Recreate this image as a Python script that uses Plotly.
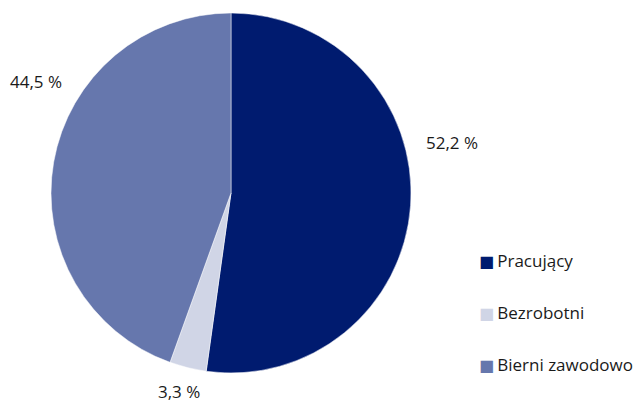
import plotly.graph_objects as go

categories = ["Pracujący", "Bezrobotni", "Bierni zawodowo"]
values = [52.2, 3.3, 44.5]
value_labels = ["52,2 %", "3,3 %", "44,5 %"]
colors = ["#001b6f", "#d0d5e6", "#6677ad"]

W, H = 638, 403
cx, cy, r = 231, 193, 180
FONT = "Open Sans, Noto Sans, sans-serif"
TXT = "#1a1a1a"

fig = go.Figure()
fig.add_trace(go.Pie(
    labels=categories, values=values, sort=False, direction="clockwise", rotation=0,
    marker=dict(colors=colors, line=dict(color="white", width=0.5)),
    textinfo="none", hoverinfo="label+percent", showlegend=False,
    domain=dict(x=[(cx - r) / W, (cx + r) / W], y=[(H - cy - r) / H, (H - cy + r) / H]),
))

# value labels
label_pos = [(452, 142), (179, 391), (36, 81)]
for txt, (px, py) in zip(value_labels, label_pos):
    fig.add_annotation(x=px / W, y=1 - py / H, xref="paper", yref="paper",
                       text=txt, showarrow=False, xanchor="center", yanchor="middle",
                       font=dict(size=17, color=TXT, family=FONT))

# legend
legend_rows = [260, 312, 364]
for c, col, py in zip(categories, colors, legend_rows):
    fig.add_annotation(x=477 / W, y=1 - py / H, xref="paper", yref="paper",
                       text=f"<span style='color:{col};font-size:16px;font-family:DejaVu Sans'>■</span>"
                            f"<span style='font-size:12px'> </span>{c}",
                       showarrow=False, xanchor="left", yanchor="middle",
                       font=dict(size=17, color=TXT, family=FONT))

fig.update_layout(
    width=W, height=H, margin=dict(l=0, r=0, t=0, b=0),
    paper_bgcolor="white", plot_bgcolor="white",
    font=dict(family=FONT, size=17, color=TXT),
    showlegend=False,
)
fig.write_html("out.html", config={"displayModeBar": False},
               post_script="document.body.style.margin='0px';")
